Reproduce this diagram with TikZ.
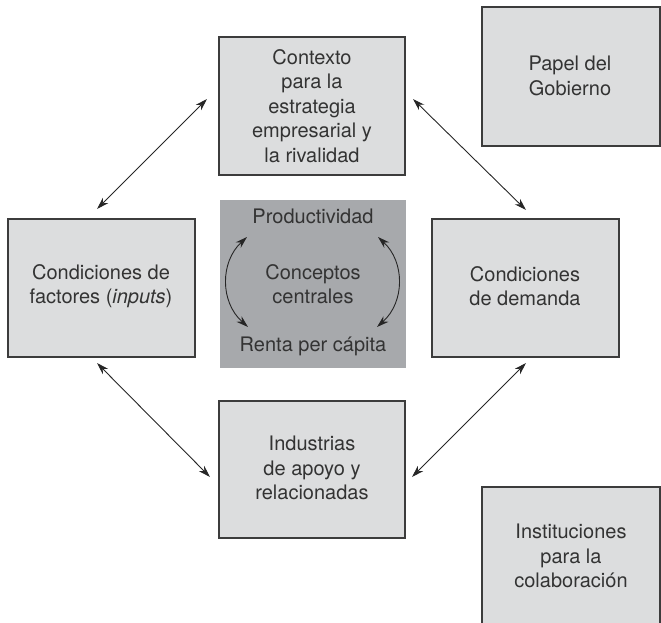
\documentclass[tikz,border=0pt]{standalone}
\usepackage{fontspec}
\setmainfont{TeX Gyre Heros}
\usetikzlibrary{arrows.meta}
\definecolor{boxfill}{HTML}{DCDDDE}
\definecolor{darkfill}{HTML}{A7A9AC}
\definecolor{edge}{HTML}{3C3C3C}
\definecolor{txt}{HTML}{333333}
\begin{document}
\begin{tikzpicture}[x=1pt,y=-1pt,
  box/.style={draw=edge, line width=1.3pt, fill=boxfill, inner sep=0pt},
  lbl/.style={align=center, text=txt, font=\fontsize{20}{24.5}\selectfont, inner sep=0pt},
  conn/.style={line width=0.9pt, draw=black!85, {Stealth[length=12pt,width=7.5pt]}-{Stealth[length=12pt,width=7.5pt]}}]
\useasboundingbox (0,0) rectangle (661,623);
\begin{scope}
\clip (0,0) rectangle (661,623);
% boxes
\draw[box] (219,37) rectangle (405,175) coordinate (tbr);
\node[lbl] (top) at (312,106) {Contexto\\para la\\estrategia\\empresarial y\\la rivalidad};
\draw[box] (482,7) rectangle (660,146);
\node[lbl] (gob) at (570,76) {Papel del\\Gobierno};
\draw[box] (8,219) rectangle (195,357);
\node[lbl] (left) at (101,286) {Condiciones de\\factores (\textit{inputs})};
\draw[box] (432,219) rectangle (619,357);
\node[lbl] (right) at (525,286) {Condiciones\\de demanda};
\fill[darkfill] (220,200) rectangle (406,368);
\node[lbl] (prod) at (313,216) {Productividad};
\node[lbl] (conc) at (313,284) {Conceptos\\centrales};
\node[lbl] (renta) at (313,346) {Renta per cápita};
\draw[box] (219,401) rectangle (405,538);
\node[lbl] (bot) at (312,468) {Industrias\\de apoyo y\\relacionadas};
\draw[box] (482,487) rectangle (660,630);
\node[lbl] (inst) at (571,556) {Instituciones\\para la\\colaboración};
\end{scope}
% arrow end points
\coordinate (a1) at (207,99);  \coordinate (a2) at (97,209);
\coordinate (b1) at (413,99);  \coordinate (b2) at (526,210);
\coordinate (c1) at (97,363);  \coordinate (c2) at (210,477);
\coordinate (d1) at (526,363); \coordinate (d2) at (412,477);
\draw[conn] (a1) -- (a2);
\draw[conn] (b1) -- (b2);
\draw[conn] (c1) -- (c2);
\draw[conn] (d1) -- (d2);
\coordinate (l1) at (247,237); \coordinate (l2) at (248,327);
\coordinate (r1) at (378,237); \coordinate (r2) at (377,327);
\draw[conn] (l1) .. controls (220,262) and (220,302) .. (l2);
\draw[conn] (r1) .. controls (405,262) and (405,302) .. (r2);
\end{tikzpicture}
\end{document}
